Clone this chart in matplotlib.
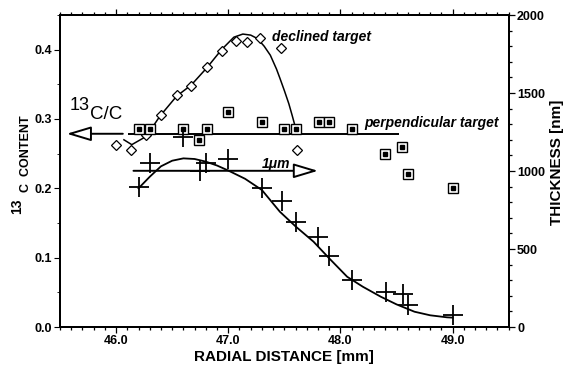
import numpy as np
import matplotlib
matplotlib.use('Agg')
from matplotlib import pyplot as plt
from matplotlib.ticker import MultipleLocator, FormatStrFormatter

plt.rcParams['font.family'] = ['Liberation Sans', 'DejaVu Sans']

# declined target, 13C content (left axis)
declined_x = [46.00, 46.13, 46.27, 46.40, 46.54, 46.67, 46.81, 46.94, 47.07, 47.17, 47.28, 47.47, 47.61]
declined_c = [0.262, 0.256, 0.277, 0.306, 0.334, 0.347, 0.375, 0.398, 0.413, 0.411, 0.417, 0.402, 0.255]
# drawn fit through the declined target points
declined_fit_x = [46.07, 46.14, 46.27, 46.39, 46.54, 46.67, 46.81, 46.94, 47.05, 47.13, 47.20,
                  47.26, 47.32, 47.375, 47.43, 47.46, 47.50, 47.54, 47.57, 47.60]
declined_fit_c = [0.270, 0.263, 0.275, 0.304, 0.333, 0.349, 0.374, 0.400, 0.418, 0.4225, 0.421,
                  0.416, 0.405, 0.392, 0.372, 0.359, 0.341, 0.322, 0.305, 0.287]

# perpendicular target, 13C content (left axis)
perp_x = [46.20, 46.30, 46.60, 46.74, 46.81, 47.00, 47.30, 47.50, 47.60, 47.81, 47.90, 48.10,
          48.40, 48.55, 48.60, 49.00]
perp_c = [0.286, 0.286, 0.286, 0.270, 0.286, 0.310, 0.295, 0.286, 0.286, 0.295, 0.295, 0.286,
          0.249, 0.260, 0.220, 0.200]
perp_level = 0.2787

# layer thickness (right axis)
thick_x = [46.20, 46.30, 46.60, 46.75, 46.80, 47.00, 47.30, 47.48, 47.60, 47.80, 47.90, 48.10,
           48.41, 48.56, 48.60, 49.00]
thick_nm = [895, 1049, 1220, 1002, 1049, 1075, 889, 810, 671, 575, 455, 301, 226, 209, 141, 79]
# drawn fit through the thickness points
thick_fit_x = [46.20, 46.30, 46.40, 46.50, 46.60, 46.70, 46.80, 46.90, 47.00, 47.15, 47.30, 47.46,
               47.60, 47.76, 47.90, 48.06, 48.20, 48.36, 48.50, 48.66, 48.80, 48.95, 49.00]
thick_fit_nm = [889, 963, 1030, 1066, 1081, 1077, 1060, 1035, 1003, 950, 878, 739,
                645, 547, 440, 322, 258, 194, 145, 98, 75, 62, 60]

x_ticks = [46.0, 47.0, 48.0, 49.0]


def px(x, y):
    # pixel position -> figure fraction
    return x / 566.0, 1 - y / 366.0


fig = plt.figure(figsize=(5.66, 3.66), dpi=100)
l, b = px(60, 327)
r, t = px(508.7, 15)
ax = fig.add_axes([l, b, r - l, t - b])
ax2 = ax.twinx()

ax.set_xlim(45.5, 49.5)
ax.set_ylim(0, 0.45)
ax2.set_ylim(0, 2000)

ax.plot(declined_fit_x, declined_fit_c, color='black', lw=1.1)
ax2.plot(thick_fit_x, thick_fit_nm, color='black', lw=1.3)

ax.plot(declined_x, declined_c, 'D', ms=5, mfc='white', mec='black', mew=0.9)
ax.hlines(perp_level, 46.11, 48.52, color='black', lw=1.4)
ax.plot(perp_x, perp_c, 's', ms=7, mfc='white', mec='black', mew=1.0)
ax.plot(perp_x, perp_c, 's', ms=2.8, color='black')
ax2.plot(thick_x, thick_nm, '+', ms=14, color='black', mew=1.3)

arrow = dict(arrowstyle='-|>,head_length=1.5,head_width=0.45', fc='white', ec='black',
             lw=1.4, shrinkA=0, shrinkB=0, mutation_scale=10)
ax.annotate('', xy=(45.56, perp_level), xytext=(46.06, perp_level), arrowprops=arrow)
ax.annotate('', xy=(47.80, 0.2253), xytext=(46.155, 0.2253), arrowprops=arrow)

ax.text(47.39, 0.4178, 'declined target', fontsize=10, style='italic', weight='bold', va='center')
ax.text(48.21, 0.2942, 'perpendicular target', fontsize=10, style='italic', weight='bold', va='center')
ax.text(47.30, 0.2296, '1\u03bcm', fontsize=10, style='italic', weight='bold', va='baseline')
ax.text(45.59, 0.3321, '13', fontsize=13, va='top')
ax.text(45.77, 0.3004, 'C/C', fontsize=13.5, va='baseline')

for a in (ax, ax2):
    for s in a.spines.values():
        s.set_linewidth(1.4)
ax.set_xticks(x_ticks)
ax.xaxis.set_minor_locator(MultipleLocator(0.1))
ax.xaxis.set_major_formatter(FormatStrFormatter('%.1f'))
ax.yaxis.set_major_locator(MultipleLocator(0.1))
ax.yaxis.set_minor_locator(MultipleLocator(0.05))
ax.yaxis.set_major_formatter(FormatStrFormatter('%.1f'))
ax2.yaxis.set_major_locator(MultipleLocator(500))
ax2.yaxis.set_minor_locator(MultipleLocator(100))
ax.tick_params(axis='x', which='both', top=True, direction='out', width=0.9)
ax.tick_params(which='major', length=4, labelsize=9, pad=2)
ax.tick_params(which='minor', length=2.2)
ax2.tick_params(which='major', length=4, width=0.9, labelsize=9, pad=2)
ax2.tick_params(which='minor', length=2.2, width=0.9)
for lab in ax.get_xticklabels() + ax.get_yticklabels() + ax2.get_yticklabels():
    lab.set_fontweight('bold')

x, y = px(284, 357)
fig.text(x, y, 'RADIAL DISTANCE [mm]', fontsize=11, weight='bold', ha='center', va='center')
x, y = px(556.7, 162)
fig.text(x, y, 'THICKNESS [nm]', fontsize=11, weight='bold', ha='center', va='center', rotation=90)
x, y = px(26.5, 154)
fig.text(x, y, 'C  CONTENT', fontsize=9, weight='bold', ha='center', va='center', rotation=90)
x, y = px(17, 206.5)
fig.text(x, y, '13', fontsize=10, weight='bold', ha='center', va='center', rotation=90)

fig.savefig('out.png', dpi=100)
